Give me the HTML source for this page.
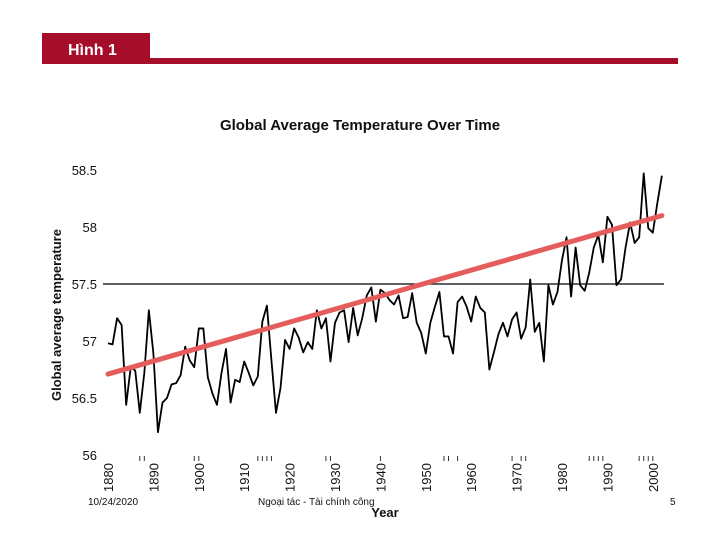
<!DOCTYPE html>
<html><head><meta charset="utf-8"><style>
body{margin:0;width:720px;height:540px;background:#fff;overflow:hidden;font-family:"Liberation Sans",sans-serif}
</style></head><body>
<svg width="720" height="540" viewBox="0 0 720 540" xmlns="http://www.w3.org/2000/svg">
<rect x="42" y="33" width="108" height="31" fill="#a50d2a"/>
<rect x="150" y="58" width="528" height="6" fill="#a50d2a"/>
<text x="68" y="55" fill="#fff" font-size="16" font-weight="bold" font-family="Liberation Sans, DejaVu Sans, sans-serif">Hình 1</text>
<text x="360" y="130" text-anchor="middle" font-size="15" font-weight="bold" fill="#111">Global Average Temperature Over Time</text>
<text transform="translate(61,315) rotate(-90)" text-anchor="middle" font-size="13" font-weight="bold" fill="#111">Global average temperature</text>
<text x="385" y="517" text-anchor="middle" font-size="13" font-weight="bold" fill="#111">Year</text>
<text x="88" y="505" font-size="10" fill="#111">10/24/2020</text>
<text x="258" y="505" font-size="10" fill="#111">Ngoại tác - Tài chính công</text>
<text x="670" y="505" font-size="10" fill="#111">5</text>
<g id="plot"></g>
</svg>
<script>
const years=[];for(let y=1880;y<=2002;y++)years.push(y);
const temps=[56.98,56.97,57.20,57.14,56.44,56.77,56.74,56.37,56.72,57.27,
56.89,56.20,56.46,56.50,56.62,56.63,56.70,56.95,56.83,56.77,
57.11,57.11,56.68,56.54,56.44,56.72,56.93,56.46,56.66,56.64,
56.82,56.72,56.61,56.69,57.17,57.31,56.83,56.37,56.59,57.01,
56.93,57.11,57.03,56.90,56.99,56.93,57.27,57.11,57.20,56.82,
57.16,57.25,57.27,56.99,57.29,57.05,57.20,57.40,57.47,57.17,
57.45,57.42,57.36,57.32,57.40,
57.20,57.21,57.42,57.16,57.07,56.89,57.16,57.30,57.43,57.04,
57.04,56.89,57.34,57.39,57.30,57.17,57.39,57.29,57.25,56.75,
56.90,57.06,57.16,57.04,57.19,57.25,57.02,57.12,57.54,57.08,
57.16,56.82,57.49,57.32,57.43,57.71,57.91,57.39,57.82,57.49,
57.44,57.60,57.82,57.93,57.69,58.09,58.02,57.49,57.54,57.82,
58.04,57.86,57.91,58.47,57.99,57.95,58.21,58.45];
const trendYears=[1880,2002];
const trendVals=[56.71,58.10];
const refValue=[57.5];
const yTicks=[58.5,58,57.5,57,56.5,56];
const xTicks=[1880,1890,1900,1910,1920,1930,1940,1950,1960,1970,1980,1990,2000];
const rugYears=[1887,1888,1899,1900,1913,1914,1915,1916,1928,1929,1940,1954,1955,1957,1969,1971,1972,1986,1987,1988,1989,1997,1998,1999,2000];
const xs=y=>108+(y-1880)*4.54;
const ys=v=>170+(58.5-v)*114;
const NS="http://www.w3.org/2000/svg";
const g=document.getElementById('plot');
function mk(t,a){const e=document.createElementNS(NS,t);for(const k in a)e.setAttribute(k,a[k]);g.appendChild(e);return e;}
yTicks.forEach(v=>{const t=mk('text',{x:97,y:ys(v)+5,'text-anchor':'end','font-size':13,fill:'#111'});t.textContent=v;

});
xTicks.forEach(v=>{const t=mk('text',{transform:`translate(${xs(v)+5},492) rotate(-90)`,'font-size':13,fill:'#111'});t.textContent=v;

});
rugYears.forEach(v=>{const l=mk('line',{x1:xs(v),x2:xs(v),y1:456,y2:461,stroke:'#333','stroke-width':1});

});
const ref=mk('line',{x1:103,x2:664,y1:ys(refValue[0]),y2:ys(refValue[0]),stroke:'#000','stroke-width':1.2});


const p=mk('polyline',{points:years.map((y,i)=>xs(y)+','+ys(temps[i])).join(' '),fill:'none',stroke:'#000','stroke-width':1.8,'stroke-linejoin':'round'});


const tr=mk('line',{x1:xs(trendYears[0]),y1:ys(trendVals[0]),x2:xs(trendYears[1]),y2:ys(trendVals[1]),stroke:'#e55c5c','stroke-width':5,'stroke-linecap':'round'});


</script>
</body></html>
